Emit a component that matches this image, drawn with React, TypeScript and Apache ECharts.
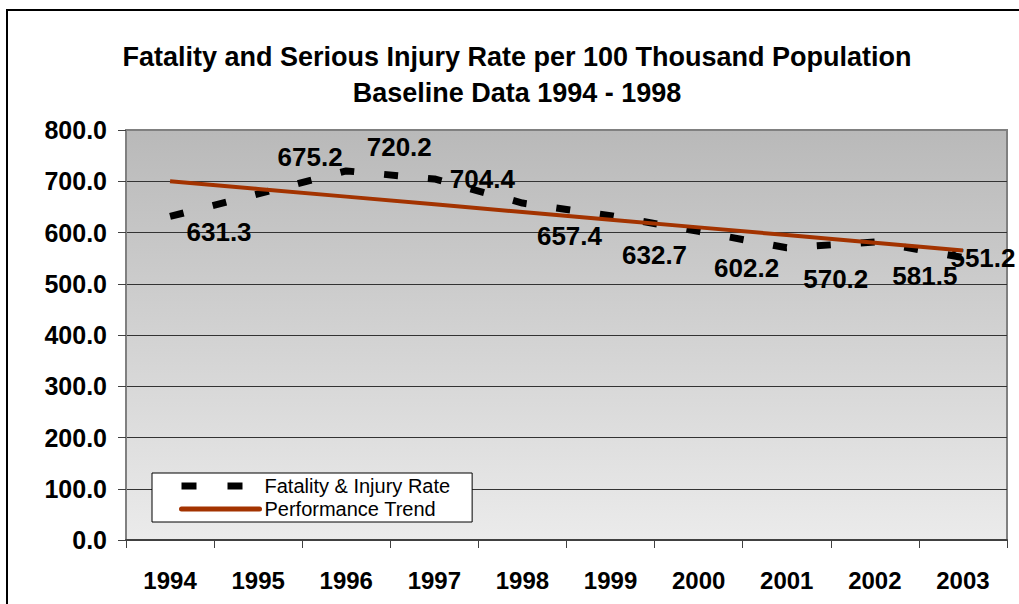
import React, { useEffect, useRef } from "react";
import * as echarts from "echarts";

const years = ["1994", "1995", "1996", "1997", "1998", "1999", "2000", "2001", "2002", "2003"];
const rates = [631.3, 675.2, 720.2, 704.4, 657.4, 632.7, 602.2, 570.2, 581.5, 551.2];
const trend = [700, 685, 670, 655, 640, 625, 610, 595, 580, 565];
const yTicks = { min: 0, max: 800, interval: 100 };
const titleLines = [
  "Fatality and Serious Injury Rate per 100 Thousand Population",
  "Baseline Data 1994 - 1998",
];
const seriesNames = ["Fatality & Injury Rate", "Performance Trend"];

// label placement (style only)
const labelOffsets = [
  [49, 16], [52, -37], [53, -24], [48, 0], [47, 33],
  [44, 39], [48, 37], [49, 31], [50, 34], [20, 0],
];

const FONT = "'Liberation Sans', Arial, sans-serif";

export default function App() {
  const ref = useRef<HTMLDivElement>(null);
  useEffect(() => {
    if (!ref.current) return;
    const chart = echarts.init(ref.current, null, { renderer: "svg" });
    chart.setOption({
      animation: false,
      backgroundColor: "#ffffff",
      textStyle: { fontFamily: FONT },
      graphic: [
        {
          type: "rect",
          shape: { x: 7, y: 10, width: 1100, height: 700 },
          style: { fill: "none", stroke: "#000", lineWidth: 2 },
          silent: true,
        },
        {
          type: "text",
          x: 517,
          y: 57,
          style: {
            text: titleLines[0],
            font: `bold 27px ${FONT}`,
            fill: "#000",
            textAlign: "center",
            textVerticalAlign: "middle",
          },
        },
        {
          type: "text",
          x: 517,
          y: 93,
          style: {
            text: titleLines[1],
            font: `bold 27px ${FONT}`,
            fill: "#000",
            textAlign: "center",
            textVerticalAlign: "middle",
          },
        },
      ],
      grid: {
        left: 126,
        right: 12,
        top: 130,
        bottom: 64,
        show: true,
        borderColor: "#808080",
        borderWidth: 2,
        backgroundColor: new echarts.graphic.LinearGradient(0, 0, 0, 1, [
          { offset: 0, color: "#b9b9b9" },
          { offset: 1, color: "#ebebeb" },
        ]),
      },
      legend: {
        left: 152,
        top: 473,
        orient: "vertical",
        data: [
          {
            name: seriesNames[0],
            itemStyle: { opacity: 0 },
            lineStyle: { color: "#000", width: 7, type: [15, 31], cap: "butt" },
          },
          {
            name: seriesNames[1],
            itemStyle: { opacity: 0 },
            lineStyle: { color: "#a33300", width: 5, cap: "round" },
          },
        ],
        backgroundColor: "#ffffff",
        borderColor: "#000",
        borderWidth: 1,
        padding: [3, 22, 3, 26],
        itemGap: 3,
        itemWidth: 78,
        itemHeight: 22,
        textStyle: { fontSize: 20, color: "#000", fontFamily: FONT },
      },
      xAxis: {
        type: "category",
        data: years,
        boundaryGap: true,
        axisLine: { show: true, lineStyle: { color: "#404040", width: 2 } },
        axisTick: { show: true, length: 8, lineStyle: { color: "#404040", width: 1 } },
        axisLabel: {
          margin: 28,
          fontSize: 24,
          fontWeight: "bold",
          color: "#000",
          fontFamily: FONT,
        },
        splitLine: { show: false },
      },
      yAxis: {
        type: "value",
        min: yTicks.min,
        max: yTicks.max,
        interval: yTicks.interval,
        axisLine: { show: true, lineStyle: { color: "#808080", width: 2 } },
        axisTick: { show: true, length: 8, lineStyle: { color: "#404040", width: 1 } },
        axisLabel: {
          margin: 19,
          fontSize: 25,
          fontWeight: "bold",
          color: "#000",
          fontFamily: FONT,
          formatter: (v: number) => v.toFixed(1),
        },
        splitLine: {
          show: true,
          lineStyle: {
            color: ["#333333", "#333333", "#333333", "#333333", "#333333", "#333333", "#333333", "#333333", "#808080"],
            width: 1,
          },
        },
      },
      series: [
        {
          name: seriesNames[0],
          type: "line",
          data: rates.map((v, i) => ({
            value: v,
            label: { offset: labelOffsets[i] },
          })),
          symbol: "circle",
          symbolSize: 2,
          showSymbol: true,
          itemStyle: { color: "rgba(0,0,0,0)" },
          lineStyle: { color: "#000", width: 7, type: [14, 30], cap: "butt" },
          label: {
            show: true,
            position: "inside",
            fontSize: 26,
            fontWeight: "bold",
            color: "#000",
            fontFamily: FONT,
            formatter: (p: any) => Number(p.value).toFixed(1),
          },
          z: 3,
        },
        {
          name: seriesNames[1],
          type: "line",
          data: trend,
          symbol: "none",
          itemStyle: { color: "#a33300" },
          lineStyle: { color: "#a33300", width: 4 },
          z: 4,
        },
      ],
    });
    return () => chart.dispose();
  }, []);
  return (
    <div
      ref={ref}
      style={{ position: "absolute", left: 0, top: 0, width: 1019, height: 604 }}
    />
  );
}
